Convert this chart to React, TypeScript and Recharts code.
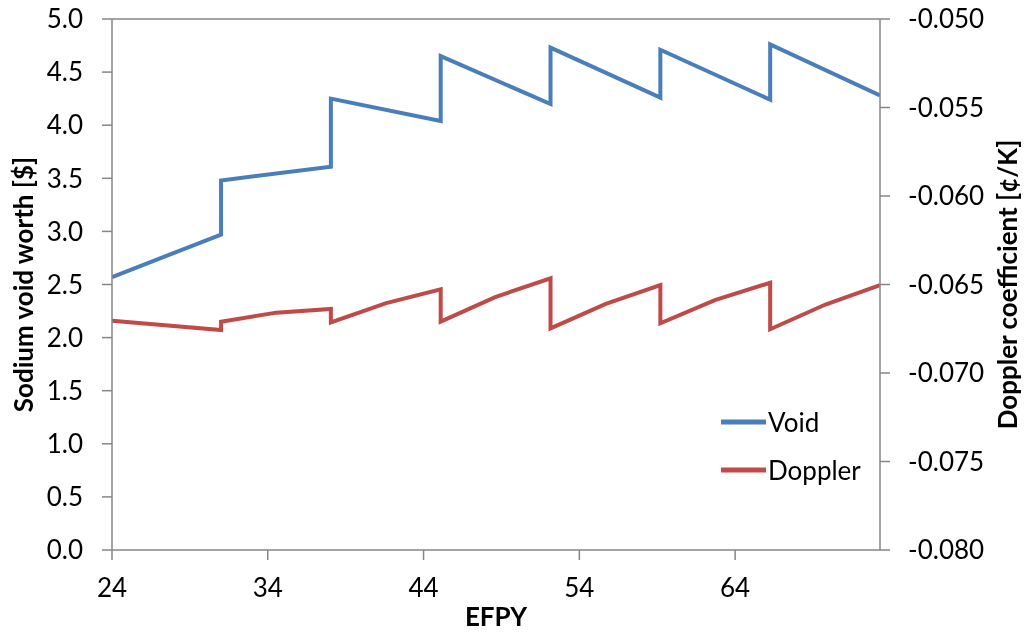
import React from 'react';
import { LineChart, Line, XAxis, YAxis, Legend, ReferenceLine } from 'recharts';

// EFPY points for the void worth curve (jumps at each reload are vertical)
const voidEfpy = [24, 31.0, 31.0, 38.05, 38.05, 45.1, 45.1, 52.15, 52.15, 59.2, 59.2, 66.25, 66.25, 73.3];
const voidWorth = [2.57, 2.97, 3.48, 3.61, 4.25, 4.04, 4.65, 4.2, 4.73, 4.26, 4.71, 4.24, 4.76, 4.28];

const dopplerEfpy = [
  24, 31.0, 31.0, 34.55, 38.05, 38.05, 41.6, 45.1, 45.1, 48.6, 52.15,
  52.15, 55.7, 59.2, 59.2, 62.7, 66.25, 66.25, 69.8, 73.3,
];
const dopplerCoef = [
  -0.06705, -0.06757, -0.0671, -0.06659, -0.06638, -0.06714, -0.06605, -0.06527, -0.0671, -0.06571, -0.06465,
  -0.06748, -0.0661, -0.06503, -0.06719, -0.06588, -0.0649, -0.06753, -0.06613, -0.06503,
];

const seriesNames = ['Void', 'Doppler'];
const xTicks = [24, 34, 44, 54, 64];
const leftTicks = [0, 0.5, 1, 1.5, 2, 2.5, 3, 3.5, 4, 4.5, 5];
const rightTicks = [-0.08, -0.075, -0.07, -0.065, -0.06, -0.055, -0.05];

const voidData = voidEfpy.map((x, i) => ({ x, v: voidWorth[i] }));
const dopplerData = dopplerEfpy.map((x, i) => ({ x, d: dopplerCoef[i] }));

const FONT = 'Lato, "Open Sans", sans-serif';
const AXIS = '#868686';
const tickStyle = { fill: '#000', fontSize: 26, fontFamily: FONT };
const titleStyle = { fill: '#000', fontSize: 26, fontFamily: FONT, fontWeight: 700 };

function LegendBox(props: any) {
  const items = [...(props.payload || [])].sort(
    (a: any, b: any) => seriesNames.indexOf(a.value) - seriesNames.indexOf(b.value)
  );
  return (
    <div style={{ fontFamily: FONT, fontSize: 26, color: '#000' }}>
      {items.map((it: any) => (
        <div key={it.value} style={{ display: 'flex', alignItems: 'center', height: 48 }}>
          <svg width={45} height={8} style={{ marginRight: 2 }}>
            <line x1={0} y1={4} x2={45} y2={4} stroke={it.color} strokeWidth={5} />
          </svg>
          <span>{it.value}</span>
        </div>
      ))}
    </div>
  );
}

export default function App() {
  return (
    <div style={{ position: 'fixed', left: 0, top: 0 }}>
      <LineChart width={1027} height={633} margin={{ top: 19, right: 0, bottom: 0, left: 0 }}>
        <XAxis
          type="number"
          dataKey="x"
          domain={[24, 73.3]}
          allowDataOverflow
          ticks={xTicks}
          height={83}
          stroke={AXIS}
          strokeWidth={1.5}
          tickSize={10}
          tickMargin={19}
          tick={tickStyle}
          label={{ value: 'EFPY', position: 'center', dy: 25, style: titleStyle }}
        />
        <YAxis
          yAxisId="left"
          domain={[0, 5]}
          ticks={leftTicks}
          width={112}
          stroke={AXIS}
          strokeWidth={1.5}
          tickSize={10}
          tickMargin={19}
          tick={tickStyle}
          tickFormatter={(v: number) => v.toFixed(1)}
          label={{ value: 'Sodium void worth [$]', angle: -90, position: 'center', dx: -32, style: titleStyle }}
        />
        <YAxis
          yAxisId="right"
          orientation="right"
          domain={[-0.08, -0.05]}
          ticks={rightTicks}
          width={147}
          stroke={AXIS}
          strokeWidth={1.5}
          tickSize={10}
          tickMargin={18}
          tick={tickStyle}
          tickFormatter={(v: number) => v.toFixed(3)}
          label={{ value: 'Doppler coefficient [¢/K]', angle: -90, position: 'center', dx: 54, style: titleStyle }}
        />
        <ReferenceLine yAxisId="left" y={5} stroke={AXIS} strokeWidth={1.5} />
        <Line
          yAxisId="left"
          data={voidData}
          dataKey="v"
          name="Void"
          stroke="#4A7EBB"
          strokeWidth={4}
          dot={false}
          isAnimationActive={false}
        />
        <Line
          yAxisId="right"
          data={dopplerData}
          dataKey="d"
          name="Doppler"
          stroke="#BE4B48"
          strokeWidth={4}
          dot={false}
          isAnimationActive={false}
        />
        <Legend
          layout="vertical"
          align="center"
          verticalAlign="middle"
          content={<LegendBox />}
          wrapperStyle={{ position: 'absolute', left: 721, top: 398, width: 200 }}
        />
      </LineChart>
    </div>
  );
}
